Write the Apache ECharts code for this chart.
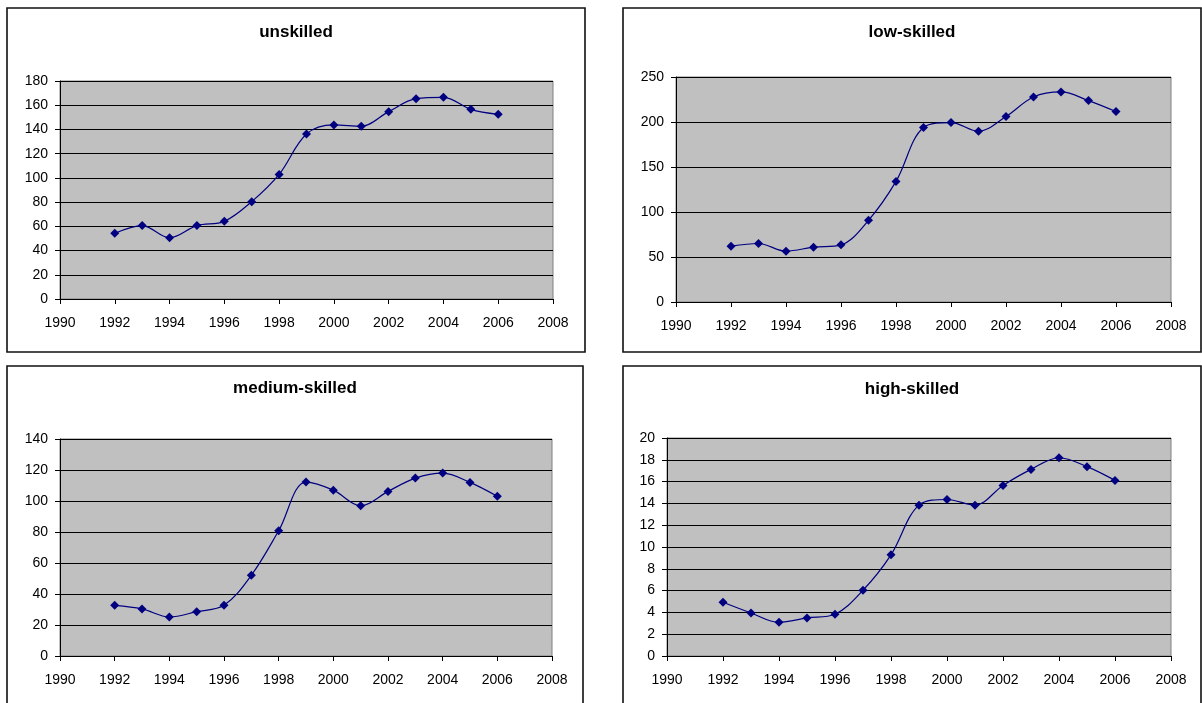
<!DOCTYPE html>
<html>
<head>
<meta charset="utf-8">
<script src="https://cdn.jsdelivr.net/npm/echarts@6/dist/echarts.min.js"></script>
<style>
html,body{margin:0;padding:0;background:#fff;}
#chart{width:1202px;height:703px;}
</style>
</head>
<body>
<div id="chart"></div>
<script>
const years = [1992,1993,1994,1995,1996,1997,1998,1999,2000,2001,2002,2003,2004,2005,2006];
const unskilled = [54.2,60.6,50.6,60.6,64.1,80.4,102.9,136.2,143.7,142.6,154.7,165.4,166.5,156.6,152.5];
const lowSkilled = [62.0,65.0,56.5,60.9,63.5,90.8,134.0,193.9,199.4,189.8,206.1,227.8,233.4,223.8,211.6];
const mediumSkilled = [32.7,30.4,25.2,28.6,32.7,52.1,80.8,112.2,107.0,96.9,106.2,114.8,118.0,112.0,103.0];
const highSkilled = [4.93,3.95,3.09,3.49,3.83,6.03,9.28,13.84,14.36,13.84,15.65,17.12,18.19,17.37,16.11];
const titles = ['unskilled','low-skilled','medium-skilled','high-skilled'];
const yMax = [180,250,140,20];
const yInterval = [20,50,20,2];
const xMin = 1990, xMax = 2008, xInterval = 2;

const seriesData = [unskilled, lowSkilled, mediumSkilled, highSkilled];
const grids = [
  {left:60, top:81, width:493, height:218},
  {left:676, top:77, width:495, height:225},
  {left:60, top:439, width:492, height:217},
  {left:667, top:438, width:504, height:218}
];
const panels = [
  {x:7, y:8, w:578, h:344},
  {x:623, y:8, w:578, h:344},
  {x:7, y:366, w:576, h:360},
  {x:623, y:366, w:578, h:360}
];
const titlePos = [
  {cx:296, top:24},
  {cx:912, top:24},
  {cx:295, top:380},
  {cx:912, top:381}
];
const font = 'Liberation Sans, Arial, sans-serif';

const chart = echarts.init(document.getElementById('chart'));
const option = {
  animation:false,
  backgroundColor:'#ffffff',
  title: titles.map((t,i)=>({
    text:t, left:titlePos[i].cx, top:titlePos[i].top, textAlign:'center', padding:0,
    textStyle:{fontFamily:font, fontWeight:'bold', fontSize:17, color:'#000'}
  })),
  graphic: panels.map(p=>({
    type:'rect', shape:{x:p.x, y:p.y, width:p.w, height:p.h},
    style:{fill:'none', stroke:'#111', lineWidth:1.6}, silent:true, z:0
  })),
  grid: grids.map(g=>Object.assign({
    show:true, backgroundColor:'#C0C0C0', borderColor:'#808080', borderWidth:1
  }, g)),
  xAxis: grids.map((g,i)=>({
    type:'value', gridIndex:i, min:xMin, max:xMax, interval:xInterval,
    axisLine:{show:true, onZero:false, lineStyle:{color:'#000', width:1}},
    axisTick:{show:true, inside:false, length:5, lineStyle:{color:'#000'}},
    axisLabel:{fontFamily:font, fontSize:14, color:'#000', margin:17, formatter:v=>String(v)},
    splitLine:{show:false}
  })),
  yAxis: grids.map((g,i)=>({
    type:'value', gridIndex:i, min:0, max:yMax[i], interval:yInterval[i],
    axisLine:{show:true, lineStyle:{color:'#000', width:1}},
    axisTick:{show:true, inside:false, length:5, lineStyle:{color:'#000'}},
    axisLabel:{fontFamily:font, fontSize:14, color:'#000', margin:12},
    splitLine:{show:true, lineStyle:{color:'#000', width:1}}
  })),
  series: seriesData.map((d,i)=>({
    type:'line', xAxisIndex:i, yAxisIndex:i,
    data: years.map((y,k)=>[y,d[k]]),
    smooth:0.35,
    symbol:'diamond', symbolSize:9,
    lineStyle:{color:'#000080', width:1.2},
    itemStyle:{color:'#000080'},
    z:3
  }))
};
chart.setOption(option);
</script>
</body>
</html>
